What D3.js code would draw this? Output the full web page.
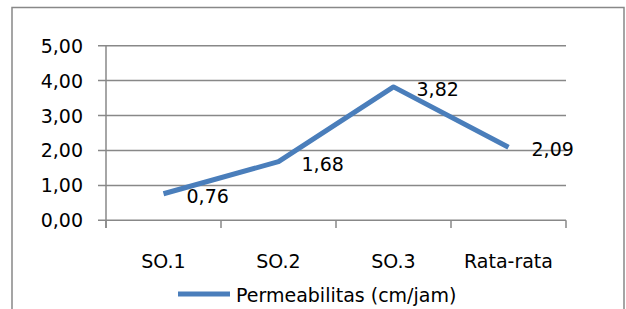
<!DOCTYPE html>
<html><head><meta charset="utf-8">
<script src="https://cdn.jsdelivr.net/npm/d3@7/dist/d3.min.js"></script>
<style>
html,body{margin:0;padding:0;background:#fff;}
svg{display:block;}
text{font-family:"DejaVu Sans",sans-serif;fill:#000;}
</style></head>
<body>
<svg id="chart" width="626" height="309"></svg>
<script>
const categories = ["SO.1","SO.2","SO.3","Rata-rata"];
const values = [0.76,1.68,3.82,2.09];
const valueLabels = ["0,76","1,68","3,82","2,09"];
const yTicks = [0,1,2,3,4,5];
const yTickLabels = ["0,00","1,00","2,00","3,00","4,00","5,00"];
const seriesName = "Permeabilitas (cm/jam)";

(function(){
const svg = d3.select("#chart");
const fs = 19;
svg.append("path").attr("d","M12,320 V7.5 H624 V320").attr("fill","none").attr("stroke","#888").attr("stroke-width",1.5);

const pLeft=106, pRight=566, pTop=45.7, pBottom=220.3;
const x = d3.scaleBand().domain(categories).range([pLeft,pRight]);
const y = d3.scaleLinear().domain([0,5]).range([pBottom,pTop]);

svg.append("g").selectAll("line").data(yTicks).join("line")
  .attr("x1",98).attr("x2",pRight).attr("y1",d=>y(d)).attr("y2",d=>y(d))
  .attr("stroke","#888").attr("stroke-width",1.5);
svg.append("line").attr("x1",pLeft).attr("x2",pLeft).attr("y1",pTop).attr("y2",228).attr("stroke","#888").attr("stroke-width",1.5);
const bounds = categories.map(c=>x(c)).concat([pRight]);
svg.append("g").selectAll("line").data(bounds).join("line")
  .attr("x1",d=>d).attr("x2",d=>d).attr("y1",pBottom).attr("y2",228)
  .attr("stroke","#888").attr("stroke-width",1.5);
svg.append("g").selectAll("text").data(yTicks).join("text")
  .attr("x",83).attr("y",d=>y(d)+7).attr("text-anchor","end")
  .attr("font-size",fs).text((d,i)=>yTickLabels[i]);
svg.append("g").selectAll("text").data(categories).join("text")
  .attr("x",d=>x(d)+x.bandwidth()/2).attr("y",268).attr("text-anchor","middle")
  .attr("font-size",fs).text(d=>d);
const line = d3.line().x((d,i)=>x(categories[i])+x.bandwidth()/2).y(d=>y(d));
svg.append("path").datum(values).attr("d",line).attr("fill","none")
  .attr("stroke","#4A7EBB").attr("stroke-width",5).attr("stroke-linejoin","round");
svg.append("g").selectAll("text").data(values).join("text")
  .attr("x",(d,i)=>x(categories[i])+x.bandwidth()/2+23).attr("y",d=>y(d)+9)
  .attr("font-size",fs).text((d,i)=>valueLabels[i]);
svg.append("line").attr("x1",178).attr("x2",230).attr("y1",294).attr("y2",294)
  .attr("stroke","#4A7EBB").attr("stroke-width",5);
svg.append("text").attr("x",236).attr("y",301.5).attr("font-size",fs).text(seriesName);
})();
</script>
</body></html>
